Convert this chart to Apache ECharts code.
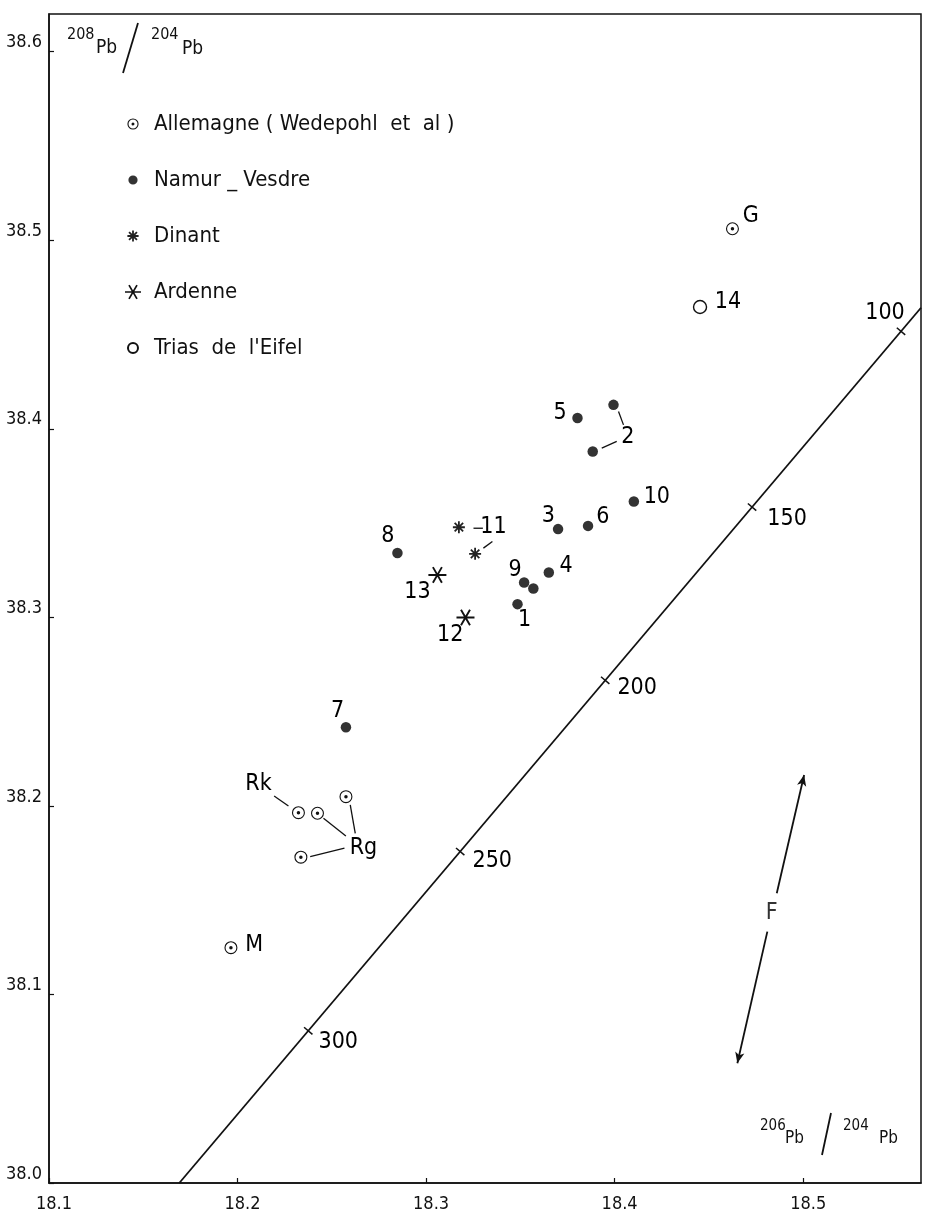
<!DOCTYPE html>
<html><head><meta charset="utf-8">
<script src="https://cdn.jsdelivr.net/npm/echarts@6/dist/echarts.min.js"></script>
<style>html,body{margin:0;padding:0;background:#fff}#c{width:929px;height:1214px}</style>
</head><body><div id="c"></div>
<script>
// ---------- data ----------
const xTickLabels = ['18.1','18.2','18.3','18.4','18.5'];
const yTickLabels = ['38.0','38.1','38.2','38.3','38.4','38.5','38.6'];

const allemagnePoints = [[18.4625,38.5061],[18.2323,38.1964],[18.2424,38.1961],[18.2575,38.2049],[18.2336,38.1728],[18.1965,38.1248]];
const allemagneLabels = ['G','Rk','','','Rg','M'];

const namurPoints = [[18.3485,38.3070],[18.3994,38.4127],[18.3884,38.3880],[18.3700,38.3468],[18.3651,38.3238],[18.3803,38.4057],[18.3859,38.3485],[18.2575,38.2417],[18.2848,38.3341],[18.3520,38.3185],[18.3569,38.3153],[18.4102,38.3614]];
const namurLabels = ['1','2','','3','4','5','6','7','8','9','','10'];

const dinantPoints = [[18.3174,38.3478],[18.3260,38.3337]];
const dinantLabels = ['11',''];

const ardennePoints = [[18.3209,38.2999],[18.3060,38.3225]];
const ardenneLabels = ['12','13'];

const triasPoints = [[18.4453,38.4646]];
const triasLabels = ['14'];

const modelLine = [[18.1691,38.0],[18.5625,38.4642]];
const modelTicks = [[18.5519,38.4517],[18.4729,38.3585],[18.3950,38.2666],[18.3181,38.1758],[18.2375,38.0807]];
const modelTickLabels = ['100','150','200','250','300'];

const fArrows = [[[18.4860,38.1537],[18.5005,38.2164]],[[18.4810,38.1333],[18.4651,38.0635]]];
const fLabelPoint = [[18.4833,38.1431]];
const fLabel = ['F'];

const legendNames = ['Allemagne ( Wedepohl  et  al )','Namur _ Vesdre','Dinant','Ardenne','Trias  de  l\'Eifel'];

// ---------- layout (pixel offsets of annotation texts / leader lines) ----------
const allemagneOffsets = [[18.4,-12.3],[-40,-28.7],null,null,[62.6,-9],[23.3,-2.7]];
const namurOffsets = [[7,15.7],[14.4,31.7],null,[-9.7,-12.6],[17.3,-6],[-17.3,-5.3],[14.7,-9.3],[-8.4,-16.6],[-9.6,-17.3],[-9,-12.7],null,[23,-5]];
const dinantOffsets = [[34.6,-0.6],null];
const ardenneOffsets = [[-15.3,17.3],[-20,16.7]];
const triasOffsets = [[28,-4.6]];
const modelTickOffsets = [[-16,-18],[35,12],[32,8],[32,9],[30,11]];
const leaders = [
  [namurPoints[1],[5,6.7],[10,20]],
  [namurPoints[2],[9,-3.4],[24,-10]],
  [dinantPoints[0],[14.6,1],[24,1]],
  [dinantPoints[1],[8.3,-5.7],[17.3,-12.3]],
  [allemagnePoints[1],[-10,-6.7],[-24.3,-16.7]],
  [allemagnePoints[2],[6,5],[28.4,22.7]],
  [allemagnePoints[3],[4.3,8.3],[9.3,36.6]],
  [allemagnePoints[4],[9.3,-0.6],[43.6,-9]]
];

// ---------- styles ----------
const FONT = "'Liberation Sans Narrow','DejaVu Sans Condensed','Liberation Sans',sans-serif";
const INK = '#111';

function bars(n, r, w, start, cx) {
  let p = '';
  for (let i = 0; i < n; i++) {
    const t = start + i * Math.PI / n;
    const c = Math.cos(t), s = Math.sin(t);
    const pts = [[-r*c + w*s, -r*s - w*c],[r*c + w*s, r*s - w*c],[r*c - w*s, r*s + w*c],[-r*c - w*s, -r*s + w*c]];
    p += 'M' + pts.map(q => (q[0]+cx).toFixed(2) + ',' + (q[1]+cx).toFixed(2)).join('L') + 'Z';
  }
  return p;
}
function ring(cx, r, h, d) {
  return 'M' + cx + ',' + (cx - r) + 'A' + r + ',' + r + ' 0 1,1 ' + (cx - 0.01) + ',' + (cx - r) + 'Z' +
         'M' + cx + ',' + (cx - h) + 'A' + h + ',' + h + ' 0 1,0 ' + (cx + 0.01) + ',' + (cx - h) + 'Z' +
         (d ? 'M' + cx + ',' + (cx - d) + 'A' + d + ',' + d + ' 0 1,1 ' + (cx - 0.01) + ',' + (cx - d) + 'Z' : '');
}
function disc(cx, r) { return 'M' + cx + ',' + (cx - r) + 'A' + r + ',' + r + ' 0 1,1 ' + (cx - 0.01) + ',' + (cx - r) + 'Z'; }
const PAD = 'M0,0L0,0M16,16L16,16';   // fixes the legend icon box at 16x16

const ringDot = 'path://' + ring(10, 10, 8.3, 2.7);
const dinantStar = 'path://' + bars(4, 10, 1.5, 0, 10);
const ardenneStar = 'path://' + bars(3, 10, 1.05, 0, 10);
const legendIcons = [
  'path://' + PAD + ring(8, 5.6, 4.5, 1.5),
  'path://' + PAD + disc(8, 4.6),
  'path://' + PAD + bars(4, 5.6, 0.9, 0, 8),
  'path://' + PAD + bars(3, 8, 0.85, 0, 8),
  'path://' + PAD + disc(8, 5)
];

function items(points, labels, offsets) {
  return points.map((v, i) => ({
    value: v,
    label: labels[i] ? { show: true, formatter: labels[i], offset: offsets[i] } : { show: false }
  }));
}
const pointLabel = { show: false, position: 'inside', color: '#000', fontSize: 23, fontFamily: FONT };

function tickFmt(list) {
  return v => { const f = list.find(s => Math.abs(parseFloat(s) - v) < 1e-6); return f || ''; };
}

const chart = echarts.init(document.getElementById('c'), null, { renderer: 'canvas' });
chart.setOption({
  animation: false,
  backgroundColor: '#fff',
  grid: { left: 49, right: 8, top: 14, bottom: 31, show: true, borderColor: INK, borderWidth: 1.5, backgroundColor: 'transparent' },
  xAxis: {
    type: 'value', min: 18.1, max: 18.5625, interval: 0.1,
    axisLine: { show: true, lineStyle: { color: INK, width: 1.5 } },
    axisTick: { show: true, inside: true, length: 5, lineStyle: { color: INK, width: 1.2 } },
    axisLabel: { color: INK, fontSize: 18, fontFamily: FONT, margin: 12, padding: [0, 0, 0, 10], showMaxLabel: false, formatter: tickFmt(xTickLabels) },
    splitLine: { show: false }
  },
  yAxis: {
    type: 'value', min: 38.0, max: 38.62, interval: 0.1,
    axisLine: { show: true, lineStyle: { color: INK, width: 1.5 } },
    axisTick: { show: true, inside: true, length: 5, lineStyle: { color: INK, width: 1.2 } },
    axisLabel: { color: INK, fontSize: 18, fontFamily: FONT, margin: 7, showMaxLabel: false, verticalAlign: 'bottom', formatter: tickFmt(yTickLabels) },
    splitLine: { show: false }
  },
  legend: {
    data: legendNames.map((n, i) => ({ name: n, icon: legendIcons[i] })),
    orient: 'vertical', left: 124, top: 111, padding: 0,
    itemWidth: 32, itemHeight: 16, itemGap: 30, selectedMode: false,
    itemStyle: { opacity: 1 },
    textStyle: { color: INK, fontSize: 22, lineHeight: 26, fontFamily: FONT }
  },
  graphic: [
    { type: 'text', x: 67, y: 27, style: { text: '208', fontSize: 16, fontFamily: FONT, fill: INK, align: 'left', verticalAlign: 'top' } },
    { type: 'text', x: 96, y: 39, style: { text: 'Pb', fontSize: 19, fontFamily: FONT, fill: INK, align: 'left', verticalAlign: 'top' } },
    { type: 'line', shape: { x1: 138, y1: 23, x2: 123, y2: 73 }, style: { stroke: INK, lineWidth: 1.8 } },
    { type: 'text', x: 151, y: 27, style: { text: '204', fontSize: 16, fontFamily: FONT, fill: INK, align: 'left', verticalAlign: 'top' } },
    { type: 'text', x: 182, y: 40, style: { text: 'Pb', fontSize: 19, fontFamily: FONT, fill: INK, align: 'left', verticalAlign: 'top' } },
    { type: 'text', x: 760, y: 1119, style: { text: '206', fontSize: 15, fontFamily: FONT, fill: INK, align: 'left', verticalAlign: 'top' } },
    { type: 'text', x: 785, y: 1130, style: { text: 'Pb', fontSize: 17, fontFamily: FONT, fill: INK, align: 'left', verticalAlign: 'top' } },
    { type: 'line', shape: { x1: 831, y1: 1113, x2: 822, y2: 1155 }, style: { stroke: INK, lineWidth: 1.8 } },
    { type: 'text', x: 843, y: 1119, style: { text: '204', fontSize: 15, fontFamily: FONT, fill: INK, align: 'left', verticalAlign: 'top' } },
    { type: 'text', x: 879, y: 1130, style: { text: 'Pb', fontSize: 17, fontFamily: FONT, fill: INK, align: 'left', verticalAlign: 'top' } }
  ],
  series: [
    { name: legendNames[0], type: 'scatter', symbol: ringDot, symbolSize: 13, symbolKeepAspect: true,
      itemStyle: { color: INK, opacity: 1 }, label: pointLabel, data: items(allemagnePoints, allemagneLabels, allemagneOffsets), z: 5 },
    { name: legendNames[1], type: 'scatter', symbol: 'circle', symbolSize: 10.5,
      itemStyle: { color: '#333', opacity: 1 }, label: pointLabel, data: items(namurPoints, namurLabels, namurOffsets), z: 5 },
    { name: legendNames[2], type: 'scatter', symbol: dinantStar, symbolSize: 12, symbolKeepAspect: true,
      itemStyle: { color: '#222', opacity: 1 }, label: pointLabel, data: items(dinantPoints, dinantLabels, dinantOffsets), z: 5 },
    { name: legendNames[3], type: 'scatter', symbol: ardenneStar, symbolSize: 18, symbolKeepAspect: true,
      itemStyle: { color: INK, opacity: 1 }, label: pointLabel, data: items(ardennePoints, ardenneLabels, ardenneOffsets), z: 5 },
    { name: legendNames[4], type: 'scatter', symbol: 'circle', symbolSize: 13,
      itemStyle: { color: '#fff', borderColor: INK, borderWidth: 1.4, opacity: 1 }, label: pointLabel, data: items(triasPoints, triasLabels, triasOffsets), z: 5 },
    { name: 'model', type: 'line', data: modelLine, symbol: 'none', silent: true,
      lineStyle: { color: INK, width: 1.8 }, z: 3 },
    { name: 'modelTicks', type: 'scatter', symbol: 'rect', symbolSize: [11, 1.5], symbolRotate: 139.7, silent: true,
      itemStyle: { color: INK, opacity: 1 }, label: pointLabel,
      data: items(modelTicks, modelTickLabels, modelTickOffsets), z: 4 },
    { name: 'leaders', type: 'custom', silent: true, encode: { x: 0, y: 1 },
      data: leaders.map(l => [l[0][0], l[0][1], l[1][0], l[1][1], l[2][0], l[2][1]]),
      renderItem: (params, api) => {
        const p = api.coord([api.value(0), api.value(1)]);
        return { type: 'line', shape: { x1: p[0] + api.value(2), y1: p[1] + api.value(3), x2: p[0] + api.value(4), y2: p[1] + api.value(5) },
                 style: { stroke: INK, lineWidth: 1.3 } };
      }, z: 4 },
    { name: 'F', type: 'scatter', symbolSize: 0, silent: true,
      label: { show: true, position: 'inside', color: '#000', fontSize: 23, fontFamily: FONT, formatter: () => fLabel[0] },
      data: fLabelPoint,
      markLine: { silent: true, symbol: ['none', 'arrow'], symbolSize: [7, 11], animation: false,
        lineStyle: { color: INK, width: 1.8, type: 'solid' }, label: { show: false },
        data: fArrows.map(a => [{ coord: a[0] }, { coord: a[1] }]) }, z: 4 }
  ]
});
</script></body></html>
